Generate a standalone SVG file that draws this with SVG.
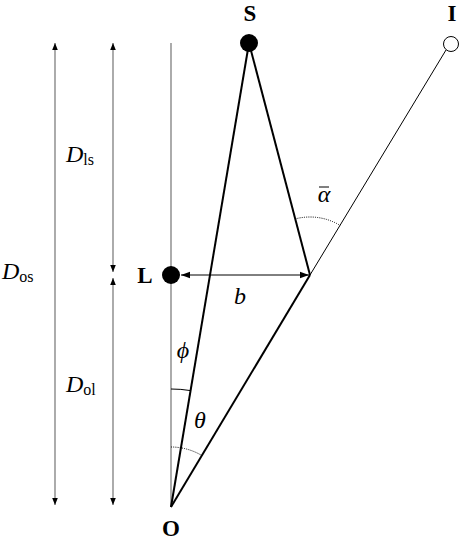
<svg xmlns="http://www.w3.org/2000/svg" width="463" height="541" viewBox="0 0 463 541">
<style>
.g{stroke:#7f7f7f;stroke-width:1.3;fill:none}
.k{stroke:#000;stroke-width:2;fill:none}
.t{stroke:#000;stroke-width:1;fill:none}
.lbl{font-family:"Liberation Serif","Times New Roman",serif;fill:#000}
.b{font-weight:bold;font-size:23px}
.i{font-style:italic;font-size:24px;font-family:"Liberation Serif",serif}
.s{font-size:16px;font-style:normal;font-family:"Liberation Serif",serif}
</style>
<defs>
<marker id="ag" viewBox="0 0 10 10" refX="10" refY="5" markerWidth="7" markerHeight="7" markerUnits="userSpaceOnUse" orient="auto-start-reverse"><path d="M0,1 L10,5 L0,9 z" fill="#000"/></marker>
<marker id="ak" viewBox="0 0 10 10" refX="10" refY="5" markerWidth="9" markerHeight="9" markerUnits="userSpaceOnUse" orient="auto-start-reverse"><path d="M0,1.5 L10,5 L0,8.5 z" fill="#000"/></marker>
</defs>
<g id="connectors">
<line class="g" x1="55" y1="43" x2="55" y2="505" marker-start="url(#ag)" marker-end="url(#ag)"/>
<line class="g" x1="113" y1="43" x2="113" y2="272" marker-start="url(#ag)" marker-end="url(#ag)"/>
<line class="g" x1="113" y1="278" x2="113" y2="505" marker-start="url(#ag)" marker-end="url(#ag)"/>
<line class="g" x1="171" y1="43" x2="171" y2="507"/>
<line class="k" x1="171" y1="507" x2="249" y2="43"/>
<line class="k" x1="249" y1="43" x2="310" y2="275"/>
<line class="k" x1="171" y1="507" x2="310" y2="275"/>
<line class="t" x1="310" y1="275" x2="446" y2="50"/>
<line class="t" x1="181" y1="275" x2="309" y2="275" stroke-width="1.3" marker-start="url(#ak)" marker-end="url(#ak)"/>
<path class="t" d="M171,389 A118,118 0 0 1 190.6,390.6"/>
<path class="t" d="M171,447 A60,60 0 0 1 201.8,455.5" stroke-dasharray="1 1.2" stroke-width="0.9"/>
<path class="t" d="M295.3,218.9 A58,58 0 0 1 340.1,225.4" stroke-dasharray="1 1.2" stroke-width="0.9"/>
</g>
<g id="node-S"><circle cx="249" cy="43" r="9" fill="#000"/><text class="lbl b" x="250" y="21" text-anchor="middle">S</text></g>
<g id="node-I"><circle cx="451" cy="44" r="7.5" fill="#fff" stroke="#000" stroke-width="1"/><text class="lbl b" x="452" y="21" text-anchor="middle">I</text></g>
<g id="node-L"><circle cx="171" cy="275" r="9" fill="#000"/><text class="lbl b" x="145" y="283" text-anchor="middle">L</text></g>
<g id="node-O"><text class="lbl b" x="171" y="536" text-anchor="middle">O</text></g>
<g id="labels">
<text class="lbl" x="66" y="162"><tspan class="i">D</tspan><tspan class="s" dy="3">ls</tspan></text>
<text class="lbl" x="2" y="279"><tspan class="i">D</tspan><tspan class="s" dy="3">os</tspan></text>
<text class="lbl" x="66" y="392"><tspan class="i">D</tspan><tspan class="s" dy="3">ol</tspan></text>
<text class="lbl i" x="240" y="304" text-anchor="middle">b</text>
<text class="lbl i" x="183" y="358" text-anchor="middle">ϕ</text>
<text class="lbl i" x="200" y="428" text-anchor="middle">θ</text>
<text class="lbl i" x="324" y="202" text-anchor="middle">α</text>
<line x1="319" y1="187" x2="329" y2="187" stroke="#000" stroke-width="1"/>
</g>
</svg>
